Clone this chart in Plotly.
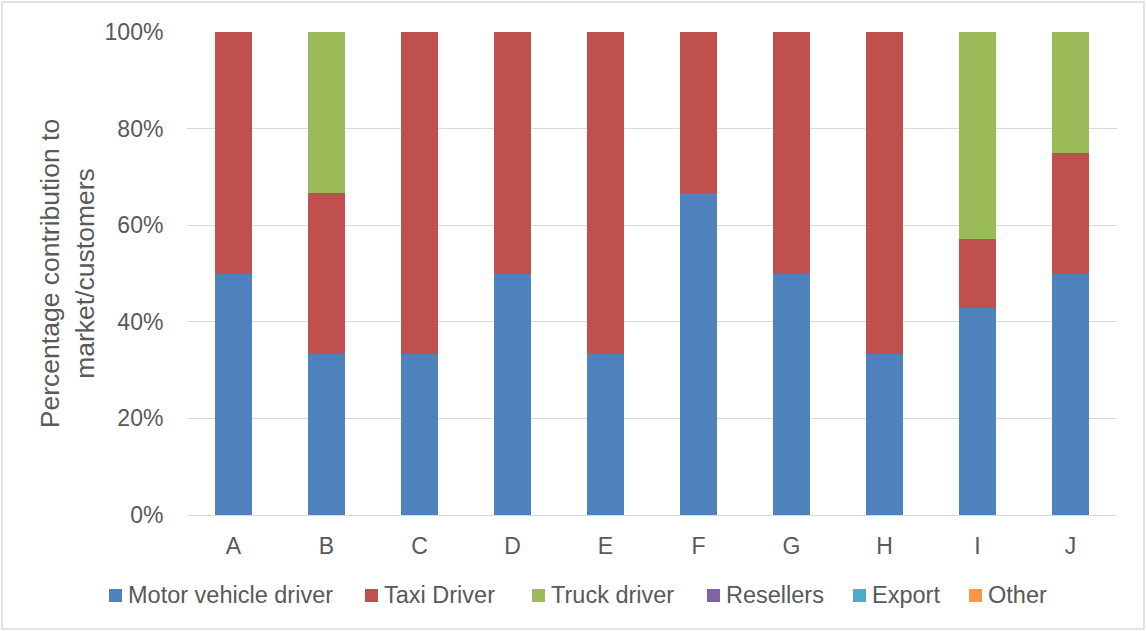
import plotly.graph_objects as go

categories = ["A", "B", "C", "D", "E", "F", "G", "H", "I", "J"]
motor = [50, 33.33, 33.33, 50, 33.33, 66.67, 50, 33.33, 42.86, 50]
taxi = [50, 33.33, 66.67, 50, 66.67, 33.33, 50, 66.67, 14.29, 25]
truck = [0, 33.34, 0, 0, 0, 0, 0, 0, 42.85, 25]
resellers = [0] * 10
export = [0] * 10
other = [0] * 10

series_names = ["Motor vehicle driver", "Taxi Driver", "Truck driver", "Resellers", "Export", "Other"]
series_values = [motor, taxi, truck, resellers, export, other]
series_colors = ["#4f81bd", "#c0504d", "#9bbb59", "#8064a2", "#4bacc6", "#f79646"]

W, H = 1146, 631
ml, mr, mt, mb = 187, 29, 32, 116
pw, ph = W - ml - mr, H - mt - mb

def px_x(p):
    return (p - ml) / pw

def px_y(p):
    return (mt + ph - p) / ph

fig = go.Figure()
for name, vals, color in zip(series_names, series_values, series_colors):
    fig.add_trace(go.Bar(x=categories, y=[v / 100 for v in vals], name=name,
                         marker=dict(color=color, line=dict(width=0)), width=0.4,
                         showlegend=False))

# legend drawn as real text with coloured squares (layout positions in pixels)
legend_text_left = [127, 383, 550, 725, 871, 987]
legend_y = 595
shapes = [dict(type="rect", xref="paper", yref="paper",
               x0=px_x(2), x1=px_x(W - 2), y0=px_y(H - 2), y1=px_y(2),
               line=dict(color="#d9d9d9", width=1.5), layer="below")]
annotations = []
for name, color, tx in zip(series_names, series_colors, legend_text_left):
    shapes.append(dict(type="rect", xref="paper", yref="paper",
                       x0=px_x(tx - 18), x1=px_x(tx - 5),
                       y0=px_y(legend_y + 7), y1=px_y(legend_y - 6),
                       fillcolor=color, line=dict(width=0)))
    annotations.append(dict(text=name, xref="paper", yref="paper",
                            x=px_x(tx), y=px_y(legend_y), xanchor="left", yanchor="middle",
                            showarrow=False, borderpad=0,
                            font=dict(size=23.5, color="#595959")))

fig.update_layout(
    width=W, height=H,
    barmode="stack",
    plot_bgcolor="white", paper_bgcolor="white",
    margin=dict(l=ml, r=mr, t=mt, b=mb, autoexpand=False),
    font=dict(family="Liberation Sans, Arial, sans-serif", size=23, color="#595959"),
    showlegend=False,
    xaxis=dict(showgrid=False, showline=True, linecolor="#d9d9d9", linewidth=1,
               ticks="outside", ticklen=10, tickcolor="rgba(0,0,0,0)",
               tickfont=dict(size=23, color="#595959")),
    yaxis=dict(range=[0, 1], tickformat=".0%", dtick=0.2, showgrid=True,
               gridcolor="#d9d9d9", gridwidth=1, zeroline=False, ticks="outside",
               tickcolor="rgba(0,0,0,0)", ticklen=18,
               tickfont=dict(size=23, color="#595959"),
               title=dict(text="Percentage contribution to<br>market/customers",
                          font=dict(size=26.5, color="#595959"), standoff=2)),
    shapes=shapes,
    annotations=annotations,
)

fig.write_html("out.html")
